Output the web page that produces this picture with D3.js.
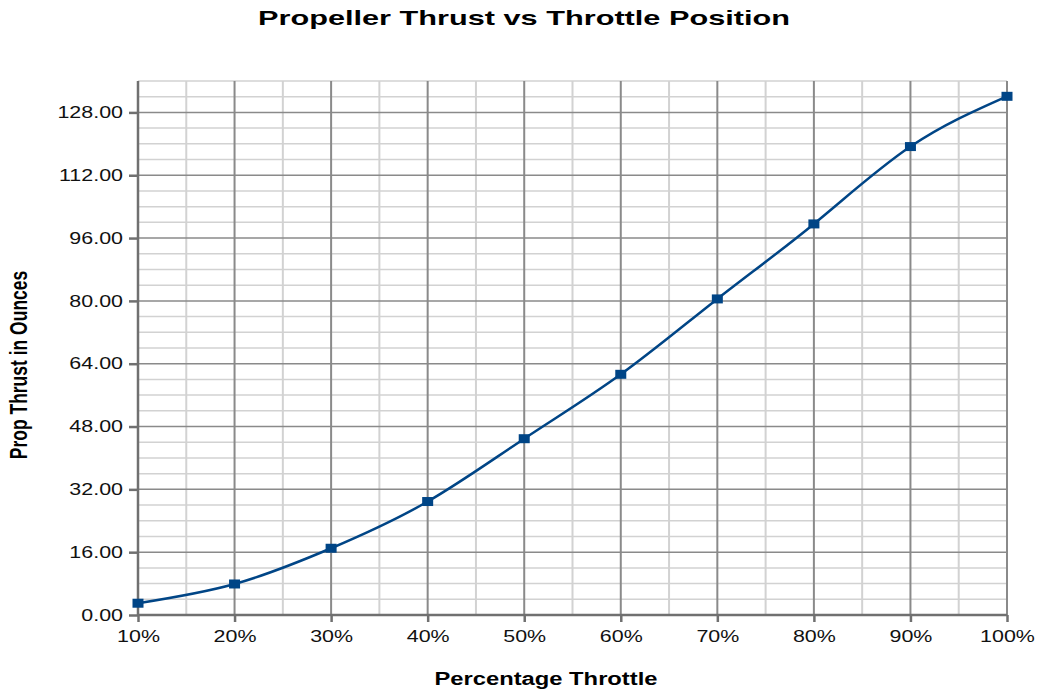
<!DOCTYPE html>
<html>
<head>
<meta charset="utf-8">
<script src="https://cdn.jsdelivr.net/npm/d3@7"></script>
<style>
  body { margin: 0; background: #fff; }
  svg { display: block; font-family: "Liberation Sans", Arial, sans-serif; }
</style>
</head>
<body>
<svg id="chart" width="1038" height="693"></svg>
<script>
const throttle = [10, 20, 30, 40, 50, 60, 70, 80, 90, 100]
const thrust = [3.0, 7.9, 17.0, 28.9, 44.9, 61.3, 80.5, 99.6, 119.3, 132.1]
const yTicks = [0, 16, 32, 48, 64, 80, 96, 112, 128]

const svg = d3.select('#chart')
const margin = { top: 81, right: 31, bottom: 78, left: 138 }
const width = 1038 - margin.left - margin.right
const height = 693 - margin.top - margin.bottom
// the reference is stretched sideways, so text gets a horizontal scale
const stretch = 1.3

const x = d3.scaleLinear().domain([10, 100]).range([0, width])
const y = d3.scaleLinear().domain([0, 136]).range([height, 0])

const g = svg.append('g').attr('transform', `translate(${margin.left},${margin.top})`)

// minor grid
g.append('g')
  .selectAll('line')
  .data(d3.range(0, 137, 4).filter((v) => v % 16 !== 0))
  .join('line')
  .attr('x1', 0).attr('x2', width)
  .attr('y1', (d) => y(d)).attr('y2', (d) => y(d))
  .attr('stroke', '#d2d2d2').attr('stroke-width', 1.5)

g.append('g')
  .selectAll('line')
  .data(d3.range(15, 100, 10))
  .join('line')
  .attr('x1', (d) => x(d)).attr('x2', (d) => x(d))
  .attr('y1', 0).attr('y2', height)
  .attr('stroke', '#d2d2d2').attr('stroke-width', 2)

// major grid
g.append('g')
  .selectAll('line')
  .data(yTicks.filter((d) => d > 0))
  .join('line')
  .attr('x1', 0).attr('x2', width)
  .attr('y1', (d) => y(d)).attr('y2', (d) => y(d))
  .attr('stroke', '#8a8a8a').attr('stroke-width', 1.5)

g.append('g')
  .selectAll('line')
  .data(throttle.filter((d) => d > 10))
  .join('line')
  .attr('x1', (d) => x(d)).attr('x2', (d) => x(d))
  .attr('y1', 0).attr('y2', height)
  .attr('stroke', '#8a8a8a').attr('stroke-width', 2)

// axes
const yAxis = g.append('g')
  .call(d3.axisLeft(y).tickValues(yTicks).tickSize(9).tickPadding(6).tickFormat(d3.format('.2f')))
const xAxis = g.append('g')
  .attr('transform', `translate(0,${height})`)
  .call(d3.axisBottom(x).tickValues(throttle).tickSize(7).tickPadding(8).tickFormat((d) => d + '%'))

for (const ax of [yAxis, xAxis]) {
  ax.select('.domain').remove()
  ax.selectAll('line').attr('stroke', '#707070').attr('stroke-width', 2.5)
  ax.selectAll('text').attr('font-size', 16.5).attr('fill', '#111')
    .attr('font-family', '"Liberation Sans", Arial, sans-serif')
}
yAxis.selectAll('text').each(function () {
  const t = d3.select(this)
  const tx = +t.attr('x')
  t.attr('x', null).attr('transform', `translate(${tx},0) scale(${stretch},1)`)
})
xAxis.selectAll('.tick text').attr('transform', `scale(${stretch},1)`)

g.append('line').attr('x1', 0).attr('x2', 0).attr('y1', 0).attr('y2', height)
  .attr('stroke', '#707070').attr('stroke-width', 2.5)
g.append('line').attr('x1', 0).attr('x2', width).attr('y1', height).attr('y2', height)
  .attr('stroke', '#707070').attr('stroke-width', 2.5)

// series
const line = d3.line()
  .x((d, i) => x(throttle[i]))
  .y((d) => y(d))
  .curve(d3.curveNatural)

g.append('path')
  .datum(thrust)
  .attr('d', line)
  .attr('fill', 'none')
  .attr('stroke', '#004586')
  .attr('stroke-width', 2.5)

g.append('g')
  .selectAll('rect')
  .data(thrust)
  .join('rect')
  .attr('x', (d, i) => x(throttle[i]) - 5.5)
  .attr('y', (d) => y(d) - 4.5)
  .attr('width', 11).attr('height', 9)
  .attr('fill', '#004586')

// titles
svg.append('text')
  .attr('x', 524).attr('y', 25)
  .attr('text-anchor', 'middle')
  .attr('font-size', 20.5).attr('font-weight', 'bold')
  .attr('textLength', 532).attr('lengthAdjust', 'spacingAndGlyphs')
  .text('Propeller Thrust vs Throttle Position')

svg.append('text')
  .attr('x', 546).attr('y', 685)
  .attr('text-anchor', 'middle')
  .attr('font-size', 18).attr('font-weight', 'bold')
  .attr('textLength', 223).attr('lengthAdjust', 'spacingAndGlyphs')
  .text('Percentage Throttle')

svg.append('text')
  .attr('transform', `translate(27,365) rotate(-90) scale(1,1.36)`)
  .attr('text-anchor', 'middle')
  .attr('font-size', 17.5).attr('font-weight', 'bold')
  .text('Prop Thrust in Ounces')
</script>
</body>
</html>
